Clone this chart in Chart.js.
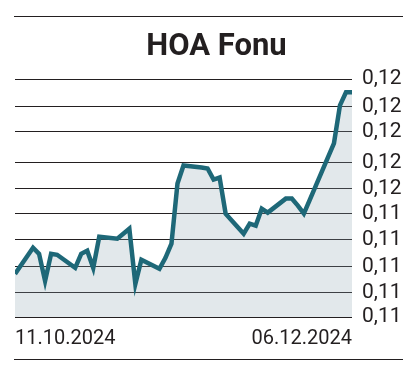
<!DOCTYPE html>
<html><head><meta charset="utf-8">
<script src="https://cdn.jsdelivr.net/npm/chart.js@4/dist/chart.umd.min.js"></script>
<style>html,body{margin:0;padding:0;background:#fff}#wrap{width:418px;height:385px;position:relative}</style>
</head><body><div id="wrap"><canvas id="c" width="418" height="385"></canvas></div>
<script>
const titleText = 'HOA Fonu';
const dates = ['11.10.2024','14.10.2024','15.10.2024','16.10.2024','17.10.2024','18.10.2024',
  '21.10.2024','22.10.2024','23.10.2024','24.10.2024','25.10.2024',
  '28.10.2024','30.10.2024','31.10.2024','01.11.2024',
  '04.11.2024','05.11.2024','06.11.2024','07.11.2024','08.11.2024',
  '11.11.2024','12.11.2024','13.11.2024','14.11.2024','15.11.2024',
  '18.11.2024','19.11.2024','20.11.2024','21.11.2024','22.11.2024',
  '25.11.2024','26.11.2024','27.11.2024','28.11.2024','29.11.2024',
  '02.12.2024','03.12.2024','04.12.2024','05.12.2024','06.12.2024'];
const prices = [0.11279,0.11357,0.11339,0.11258,0.11339,0.11336,
  0.11297,0.11339,0.11348,0.11297,0.11390,
  0.11384,0.11414,0.11249,0.11321,
  0.11294,0.11327,0.11369,0.11549,0.11603,
  0.11597,0.11594,0.11561,0.11567,0.11459,
  0.11399,0.11429,0.11423,0.11474,0.11462,
  0.11504,0.11504,0.11483,0.11459,0.11501,
  0.11627,0.11669,0.11783,0.11822,0.11822];
const yTickValues = [0.11150,0.11222,0.11300,0.11381,0.11459,0.11534,0.11612,0.11705,0.11780,0.11861];
const xTickLabels = ['11.10.2024','06.12.2024'];

function dayNum(s){const [d,m,y]=s.split('.').map(Number);return Date.UTC(y,m-1,d)/86400000;}
const d0 = dayNum(dates[0]);
const points = dates.map((d,i)=>({x: dayNum(d)-d0, y: prices[i]}));
const xTickPos = xTickLabels.map(s=>dayNum(s)-d0);
const ink = '#231f20';

const frame = {id:'frame', afterDraw(chart){const c=chart.ctx; c.save(); c.strokeStyle=ink; c.lineWidth=1;
  c.beginPath(); c.moveTo(14,16.5); c.lineTo(403,16.5); c.moveTo(14,359.5); c.lineTo(403,359.5); c.stroke(); c.restore();}};

new Chart(document.getElementById('c'), {
  type:'line',
  data:{datasets:[{data:points, borderColor:'#1e6878', borderWidth:4.5, fill:'start',
    backgroundColor:'rgba(140,165,175,0.25)', pointRadius:0, tension:0}]},
  options:{
    responsive:false, devicePixelRatio:1, animation:false,
    layout:{padding:{left:15, right:0, top:0, bottom:24}},
    plugins:{legend:{display:false}, tooltip:{enabled:false},
      title:{display:true, text:titleText, color:ink, font:{family:'Roboto', size:31, weight:'bold'}, padding:{top:29, bottom:13}}},
    scales:{
      x:{type:'linear', min:xTickPos[0], max:xTickPos[1],
        afterBuildTicks:s=>{s.ticks = xTickPos.map(v=>({value:v}));},
        grid:{display:false, drawTicks:false}, border:{display:false},
        ticks:{align:'inner', padding:10, maxRotation:0, autoSkip:false, color:ink, font:{family:'Roboto', size:20},
          callback:(v)=>xTickLabels[xTickPos.indexOf(v)]}},
      y:{position:'right', min:yTickValues[0], max:yTickValues[yTickValues.length-1],
        afterBuildTicks:s=>{s.ticks = yTickValues.map(v=>({value:v}));},
        afterFit:s=>{s.width = 66;},
        grid:{color:ink, lineWidth:1, drawTicks:false}, border:{display:false},
        ticks:{padding:10, autoSkip:false, color:ink, font:{family:'Roboto', size:21, lineHeight:1},
          callback:(v)=>Number(v).toFixed(2).replace('.',',')}}
    }
  },
  plugins:[frame]
});
</script></body></html>
